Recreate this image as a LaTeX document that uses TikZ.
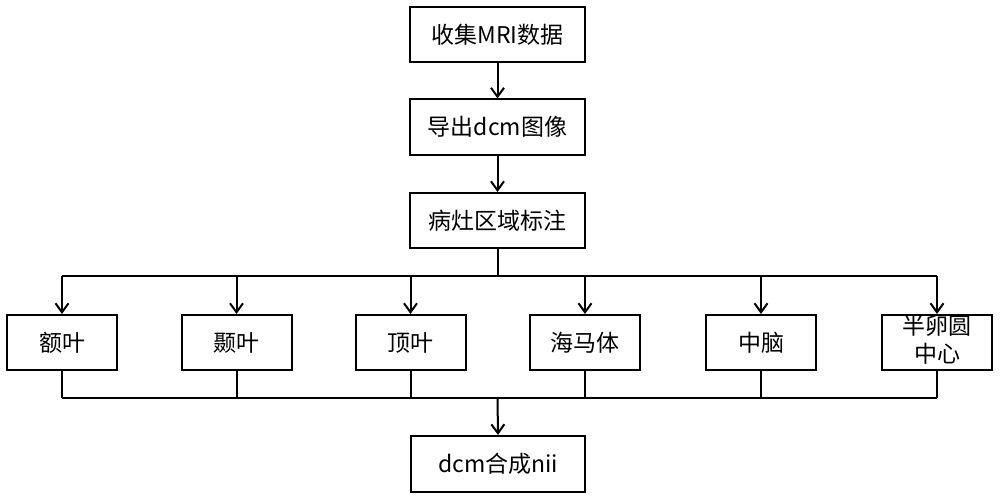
\documentclass[tikz,border=0pt]{standalone}
\usepackage{fontspec}
\setmainfont{Noto Sans CJK SC}
\usetikzlibrary{arrows.meta}
\begin{document}
\begin{tikzpicture}[x=1pt,y=-1pt,
  box/.style={draw=black, line width=2pt, minimum width=#1, minimum height=55pt, inner sep=0pt, font=\fontsize{23}{29}\selectfont, align=center},
  box/.default=110pt,
  conn/.style={line width=2pt},
  arr/.style={line width=2pt, -{Straight Barb[length=9pt,width=13pt,line width=2pt]}}]
\useasboundingbox (0,0) rectangle (1000,500);
\node[box=175pt] (a) at (497.5,34.5) {收集MRI数据};
\node[box=175pt] (b) at (497.5,127) {导出dcm图像};
\node[box=175pt] (c) at (497.5,220.5) {病灶区域标注};
\node[box] (r1) at (62,342.5) {额叶};
\node[box] (r2) at (236.5,342.5) {颞叶};
\node[box] (r3) at (410.5,342.5) {顶叶};
\node[box] (r4) at (585,342.5) {海马体};
\node[box] (r5) at (761,342.5) {中脑};
\node[box=110pt] (r6) at (937,342.5) {};
\node[font=\fontsize{23}{28}\selectfont, align=center, inner sep=0pt] (r6t) at (937,339.5) {半卵圆\\中心};
\node[box=174pt, minimum height=56pt] (d) at (498,464) {dcm合成nii};
\draw[arr] (a) -- (b);
\draw[arr] (b) -- (c);
\coordinate (top) at (497.5,276);
\coordinate (bot) at (497.5,398);
\draw[conn] (c.south) -- (top);
\draw[conn] (r1.north |- top) -- (r6.north |- top);
\foreach \n in {r1,r2,r3,r4,r5,r6} {
  \draw[arr] (\n.north |- top) -- (\n.north);
  \draw[conn] (\n.south) -- (\n.south |- bot);
}
\draw[conn] (r1.south |- bot) -- (r6.south |- bot);
\draw[arr] (bot) -- (d.north);
\end{tikzpicture}
\end{document}
